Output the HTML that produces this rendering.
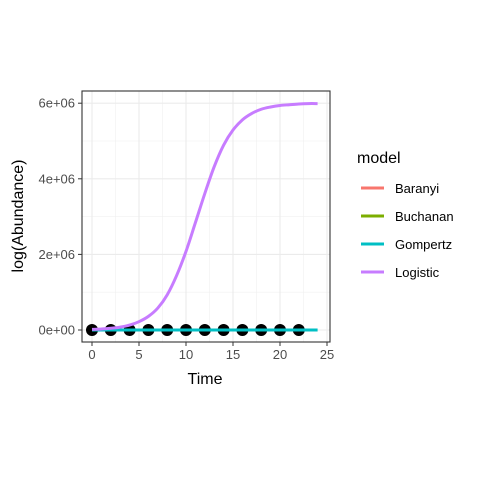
<!DOCTYPE html>
<html><head><meta charset="utf-8"><style>
body{margin:0;background:#fff;}
text{font-family:"Liberation Sans",sans-serif;}
</style></head><body>
<svg width="480" height="480" viewBox="0 0 480 480" xmlns="http://www.w3.org/2000/svg">
<rect width="480" height="480" fill="#fff"/>
<g id="grid"></g>
<g id="series"></g>
<rect x="82" y="91" width="248" height="251" fill="none" stroke="#333" stroke-width="1.1"/>
<g id="axes"></g>
<text x="205" y="384" font-size="16" text-anchor="middle">Time</text>
<text transform="translate(23,216) rotate(-90)" font-size="16" text-anchor="middle">log(Abundance)</text>
<g id="legend">
<text x="357" y="163" font-size="16">model</text>
</g>
</svg>
<script>
const xTicks=[0,5,10,15,20,25];
const yTicks=[0,2e6,4e6,6e6];
const yTickLabels=["0e+00","2e+06","4e+06","6e+06"];
const models=["Baranyi","Buchanan","Gompertz","Logistic"];
const colors=["#F8766D","#7CAE00","#00BFC4","#C77CFF"];
const obsTime=[0,2,4,6,8,10,12,14,16,18,20,22];
const obsVal=[0,0,0,0,0,0,0,0,0,0,0,0];
const fitTime=[0,1,2,3,4,5,6,7,8,9,10,11,12,13,14,15,16,17,18,19,20,21,22,23,24];
const gompertzVal=[0,0,0,0,0,0,0,0,0,0,0,0,0,0,0,0,0,0,0,0,0,0,0,0,0];
const logisticVal=[0.016e6,0.027e6,0.045e6,0.077e6,0.13e6,0.22e6,0.36e6,0.58e6,0.93e6,1.44e6,2.08e6,2.84e6,3.61e6,4.32e6,4.89e6,5.29e6,5.56e6,5.73e6,5.84e6,5.90e6,5.94e6,5.96e6,5.98e6,5.99e6,5.99e6];
const NS="http://www.w3.org/2000/svg";
const X=v=>92+v*9.4;
const Y=v=>330-v*37.8e-6;
function mk(tag,attrs,parent){const e=document.createElementNS(NS,tag);for(const k in attrs)e.setAttribute(k,attrs[k]);parent.appendChild(e);return e;}
const grid=document.getElementById('grid'),axes=document.getElementById('axes'),ser=document.getElementById('series'),leg=document.getElementById('legend');
mk('rect',{x:82,y:91,width:248,height:251,fill:'#fff'},grid);
for(let i=0;i<xTicks.length-1;i++){const m=(xTicks[i]+xTicks[i+1])/2;const l=mk('line',{x1:X(m),x2:X(m),y1:91,y2:342,stroke:'#f0f0f0','stroke-width':0.6},grid);}
for(let i=0;i<yTicks.length-1;i++){const m=(yTicks[i]+yTicks[i+1])/2;const l=mk('line',{x1:82,x2:330,y1:Y(m),y2:Y(m),stroke:'#f0f0f0','stroke-width':0.6},grid);}
xTicks.forEach(t=>{const l=mk('line',{x1:X(t),x2:X(t),y1:91,y2:342,stroke:'#ebebeb','stroke-width':1.1},grid);
const tk=mk('line',{x1:X(t),x2:X(t),y1:342,y2:346,stroke:'#333'},axes);
const tx=mk('text',{x:X(t),y:359,'font-size':13,'text-anchor':'middle',fill:'#4d4d4d'},axes);tx.textContent=t;});
yTicks.forEach((t,i)=>{const l=mk('line',{x1:82,x2:330,y1:Y(t),y2:Y(t),stroke:'#ebebeb','stroke-width':1.1},grid);
const tk=mk('line',{x1:78,x2:82,y1:Y(t),y2:Y(t),stroke:'#333'},axes);
const tx=mk('text',{x:75,y:Y(t)+4.5,'font-size':13,'text-anchor':'end',fill:'#4d4d4d'},axes);tx.textContent=yTickLabels[i];});
obsTime.forEach((t,i)=>{const c=mk('circle',{cx:X(t),cy:Y(obsVal[i]),r:6,fill:'#000'},ser);});
function smooth(v){const p=fitTime.map((t,i)=>[X(t),Y(v[i])]);let d='M'+p[0][0]+','+p[0][1];
for(let i=0;i<p.length-1;i++){const a=p[Math.max(0,i-1)],b=p[i],c=p[i+1],e=p[Math.min(p.length-1,i+2)];
d+=' C'+(b[0]+(c[0]-a[0])/6)+','+(b[1]+(c[1]-a[1])/6)+' '+(c[0]-(e[0]-b[0])/6)+','+(c[1]-(e[1]-b[1])/6)+' '+c[0]+','+c[1];}return d;}
const g=mk('path',{d:smooth(gompertzVal),fill:'none',stroke:colors[2],'stroke-width':3},ser);
const lg=mk('path',{d:smooth(logisticVal),fill:'none',stroke:colors[3],'stroke-width':3,'stroke-linejoin':'round'},ser);
models.forEach((m,i)=>{const y=188+i*28;
const l=mk('line',{x1:361,x2:384,y1:y,y2:y,stroke:colors[i],'stroke-width':3},leg);
const t=mk('text',{x:395,y:y+5,'font-size':13},leg);t.textContent=m;});
</script>
</body></html>
